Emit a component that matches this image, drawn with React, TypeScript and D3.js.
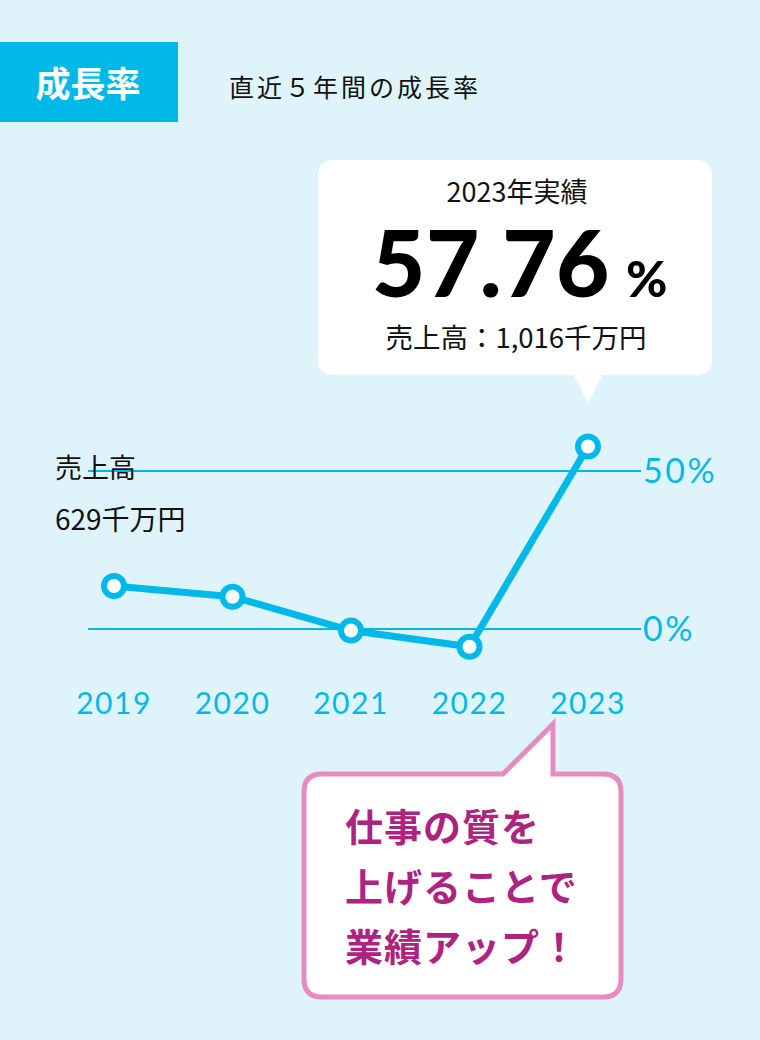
import React from "react";
import * as d3 from "d3";

const years = ["2019", "2020", "2021", "2022", "2023"];
const growth = [13.6, 10.2, -0.5, -5.6, 57.76];
const gridTicks = [0, 50];
const tickLabels = ["0%", "50%"];
const calloutLines = ["仕事の質を", "上げることで", "業績アップ！"];

const W = 760;
const H = 1040;
const CYAN = "#00b9e8";
const BG = "#dff4fa";
const PINK = "#e68cc1";
const PURPLE = "#ad237f";
const JP = "'Noto Sans CJK JP', 'Noto Sans', sans-serif";
const NUM = "Lato, 'Noto Sans', sans-serif";

export default function App() {
  const x = d3.scalePoint<string>().domain(years).range([114, 588]);
  const y = d3.scaleLinear().domain([0, 50]).range([629, 471]);
  const data = years.map((yr, i) => ({ yr, v: growth[i] }));
  const line = d3
    .line<{ yr: string; v: number }>()
    .x((d) => x(d.yr) as number)
    .y((d) => y(d.v));

  const last = data[data.length - 1];
  const lx = x(last.yr) as number;

  // white callout
  const bx0 = 318, bx1 = 712, by0 = 160, by1 = 375, r = 16;
  const tipY = 403;
  const whitePath = `M${bx0 + r},${by0} H${bx1 - r} Q${bx1},${by0} ${bx1},${by0 + r} V${by1 - r} Q${bx1},${by1} ${bx1 - r},${by1} H${lx + 14} L${lx},${tipY} L${lx - 14},${by1} H${bx0 + r} Q${bx0},${by1} ${bx0},${by1 - r} V${by0 + r} Q${bx0},${by0} ${bx0 + r},${by0} Z`;

  // pink callout
  const px0 = 304, px1 = 621, py0 = 774, py1 = 997, pr = 18;
  const ptx = 553, pty = 724;
  const pinkPath = `M${px0 + pr},${py0} H${ptx - 50} L${ptx},${pty} V${py0} H${px1 - pr} Q${px1},${py0} ${px1},${py0 + pr} V${py1 - pr} Q${px1},${py1} ${px1 - pr},${py1} H${px0 + pr} Q${px0},${py1} ${px0},${py1 - pr} V${py0 + pr} Q${px0},${py0} ${px0 + pr},${py0} Z`;

  return (
    <svg
      width={W}
      height={H}
      style={{ position: "absolute", left: 0, top: 0, display: "block" }}
    >
      <rect x={0} y={0} width={W} height={H} fill={BG} />

      {/* header */}
      <rect x={0} y={42} width={178} height={80} fill={CYAN} />
      <text
        x={88}
        y={97}
        textAnchor="middle"
        fill="#fff"
        fontFamily={JP}
        fontWeight={700}
        fontSize={35}
      >
        成長率
      </text>
      <text x={229} y={97} fill="#111" fontFamily={JP} fontSize={25} letterSpacing={3}>
        直近５年間の成長率
      </text>

      {/* white callout */}
      <path d={whitePath} fill="#fff" />
      <text x={517} y={202} textAnchor="middle" fill="#111" fontFamily={JP} fontSize={27}>
        2023年実績
      </text>
      <text
        x={491}
        y={297}
        textAnchor="middle"
        fill="#000"
        fontFamily={NUM}
        fontWeight={900}
        fontSize={92}
        letterSpacing={0.5}
      >
        {last.v.toFixed(2)}
      </text>
      <text x={626} y={297} fill="#000" fontFamily={NUM} fontWeight={900} fontSize={50}>
        %
      </text>
      <text x={516} y={348} textAnchor="middle" fill="#111" fontFamily={JP} fontSize={27.5}>
        売上高：1,016千万円
      </text>

      {/* gridlines */}
      {gridTicks.map((t, i) => (
        <g key={t}>
          <line x1={88} x2={641} y1={y(t)} y2={y(t)} stroke={CYAN} strokeWidth={2} />
          <text
            x={643}
            y={y(t) + 12}
            fill={CYAN}
            fontFamily={NUM}
            fontSize={34}
            letterSpacing={2.5}
          >
            {tickLabels[i]}
          </text>
        </g>
      ))}

      {/* left labels */}
      <text x={55} y={478} fill="#111" fontFamily={JP} fontSize={27}>
        売上高
      </text>
      <text x={55} y={530} fill="#111" fontFamily={JP} fontSize={28}>
        629千万円
      </text>

      {/* line */}
      <path
        d={line(data) || ""}
        fill="none"
        stroke={CYAN}
        strokeWidth={7}
        strokeLinejoin="round"
      />
      {data.map((d) => (
        <circle
          key={d.yr}
          cx={x(d.yr) as number}
          cy={y(d.v)}
          r={10}
          fill="#fff"
          stroke={CYAN}
          strokeWidth={6}
        />
      ))}

      {/* x labels */}
      {years.map((yr) => (
        <text
          key={yr}
          x={x(yr) as number}
          y={714}
          textAnchor="middle"
          fill={CYAN}
          fontFamily={NUM}
          fontSize={30}
          letterSpacing={1.5}
        >
          {yr}
        </text>
      ))}

      {/* pink callout */}
      <path d={pinkPath} fill="#fff" stroke={PINK} strokeWidth={5} strokeLinejoin="miter" />
      {calloutLines.map((s, i) => (
        <text
          key={s}
          x={345}
          y={841 + i * 60}
          fill={PURPLE}
          fontFamily={JP}
          fontWeight={700}
          fontSize={38}
          letterSpacing={1}
        >
          {s}
        </text>
      ))}
    </svg>
  );
}
